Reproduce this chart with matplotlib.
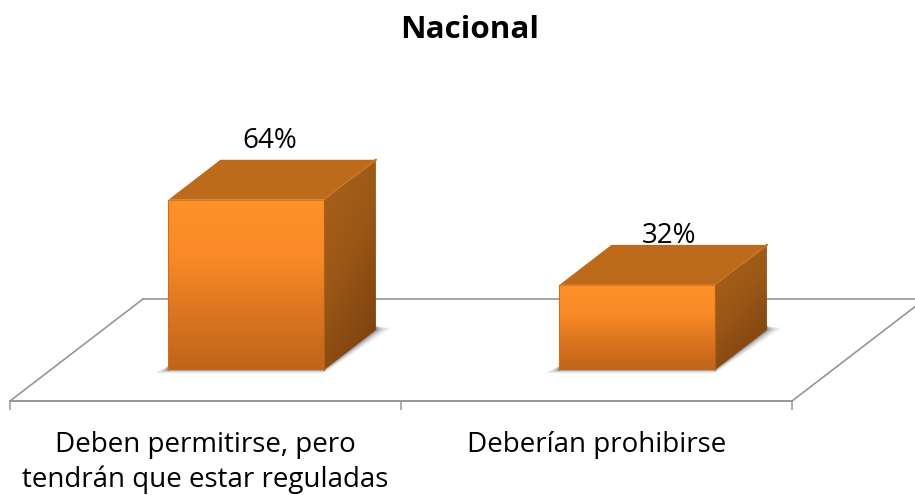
import numpy as np
import matplotlib
matplotlib.use("Agg")
import matplotlib.pyplot as plt
from matplotlib.colors import LinearSegmentedColormap
from matplotlib.patches import Polygon

title = "Nacional"
categories = ["Deben permitirse, pero\ntendrán que estar reguladas", "Deberían prohibirse"]
values = [64, 32]
value_labels = ["64%", "32%"]

W, H = 915, 495
FONT = "Open Sans"
fig = plt.figure(figsize=(W / 100, H / 100), dpi=100, facecolor="white")
ax = fig.add_axes([10 / W, (H - 401) / H, 782 / W, 401 / H])
ax.set_xlim(-0.5, 1.5)
ax.set_ylim(-31 / 2.66, 370 / 2.66)
ax.patch.set_alpha(0)
for s in ("top", "left", "right"):
    ax.spines[s].set_visible(False)
ax.spines["bottom"].set_color("#969696")
ax.spines["bottom"].set_linewidth(1.4)
ax.set_yticks([])
x = np.arange(len(values))
ax.set_xticks(x, categories)
ax.set_xticks([-0.5, 0.5, 1.5], minor=True)
ax.tick_params(axis="x", which="major", length=0, pad=21.5, labelsize=20, labelcolor="black")
ax.tick_params(axis="x", which="minor", length=6.5, width=1.1, color="#969696")
for t in ax.get_xticklabels():
    t.set_fontfamily(FONT)
    t.set_linespacing(1.32)

# depth projection, in data units
px_x, px_y = 1 / 391, 1 / 2.66
bar_w = 155.5 * px_x
shift = 0.104
ddx, ddy = 52 * px_x, 40 * px_y
fdx, fdy = 133 * px_x, 102 * px_y

# floor outline
grey = dict(color="#969696", lw=1.2, clip_on=False, zorder=1)
ax.plot([-0.5, -0.5 + fdx], [-31 * px_y, -31 * px_y + fdy], **grey)
ax.plot([-0.5 + fdx, 1.5 + fdx], [-31 * px_y + fdy] * 2, **grey)
ax.plot([1.5, 1.5 + fdx], [-31 * px_y, -31 * px_y + fdy], **grey)

front_cm = LinearSegmentedColormap.from_list("f", ["#FF9129", "#F98A26", "#DC7520", "#BF6419"])
side_cm = LinearSegmentedColormap.from_list("s", ["#AD6319", "#9A5716", "#7C420F"])


def gradient(poly, cmap, diagonal=False, zorder=3):
    xs, ys = zip(*poly)
    ext = [min(xs), max(xs), min(ys), max(ys)]
    v = np.linspace(0, 1, 128)[:, None]
    img = np.tile(v, (1, 2))
    if diagonal:
        u = np.linspace(0, 1, 64)[None, :]
        img = np.clip(0.75 * v + 0.35 * u, 0, 1)
    im = ax.imshow(img, extent=ext, origin="upper", cmap=cmap, vmin=0, vmax=1,
                   aspect="auto", zorder=zorder, interpolation="bilinear")
    patch = Polygon(poly, closed=True, transform=ax.transData, fc="none", ec="none")
    ax.add_patch(patch)
    im.set_clip_path(patch)


label_dy = [52, 42]
label_dx = [24, 32]
for xi, v, lab, ly, lx in zip(x, values, value_labels, label_dy, label_dx):
    l = xi + shift - bar_w / 2
    r = xi + shift + bar_w / 2
    # soft floor shadow
    for grow, a in zip((15, 11, 7, 4, 2), (0.07, 0.10, 0.14, 0.18, 0.22)):
        g = grow * px_x
        gy = grow * 0.22 * px_y
        ax.add_patch(Polygon([(l - g, -gy), (r, -gy), (r + ddx + g, ddy + gy * 0.6), (r + ddx, ddy + 4 * px_y),
                              (l, ddy * 0.1)],
                             closed=True, fc="#404040", ec="none", alpha=a, zorder=2))
    gradient([(l, 0), (r, 0), (r, v), (l, v)], front_cm)
    gradient([(r, 0), (r + ddx, ddy), (r + ddx, v + ddy), (r, v)], side_cm, diagonal=True)
    ax.add_patch(Polygon([(l, v), (r, v), (r + ddx, v + ddy), (l + ddx, v + ddy)],
                         closed=True, fc="#BE6A1B", ec="none", zorder=3))
    # bevel highlights
    ax.plot([r + ddx * 0.55, r + ddx], [v + ddy * 0.55, v + ddy], color="#C9711F", lw=1.6, zorder=4,
            solid_capstyle="round")
    ax.plot([l, r], [v, v], color="#D8791F", lw=0.8, zorder=4)
    ax.plot([r, r], [0, v], color="#B0601A", lw=0.8, zorder=4)
    ax.plot([l, l], [0, v], color="#C8701F", lw=0.8, zorder=4)
    ax.annotate(lab, (xi + shift, v), xytext=(lx * 0.72, ly * 0.72), textcoords="offset points",
                ha="center", va="baseline", fontsize=20, family=FONT, color="black", zorder=2,
                annotation_clip=False)

fig.text(470 / W, 1 - 38 / H, title, ha="center", va="baseline", fontsize=22.6,
         fontweight="bold", family=FONT, color="black")
fig.savefig("out.png", dpi=100, facecolor="white")
